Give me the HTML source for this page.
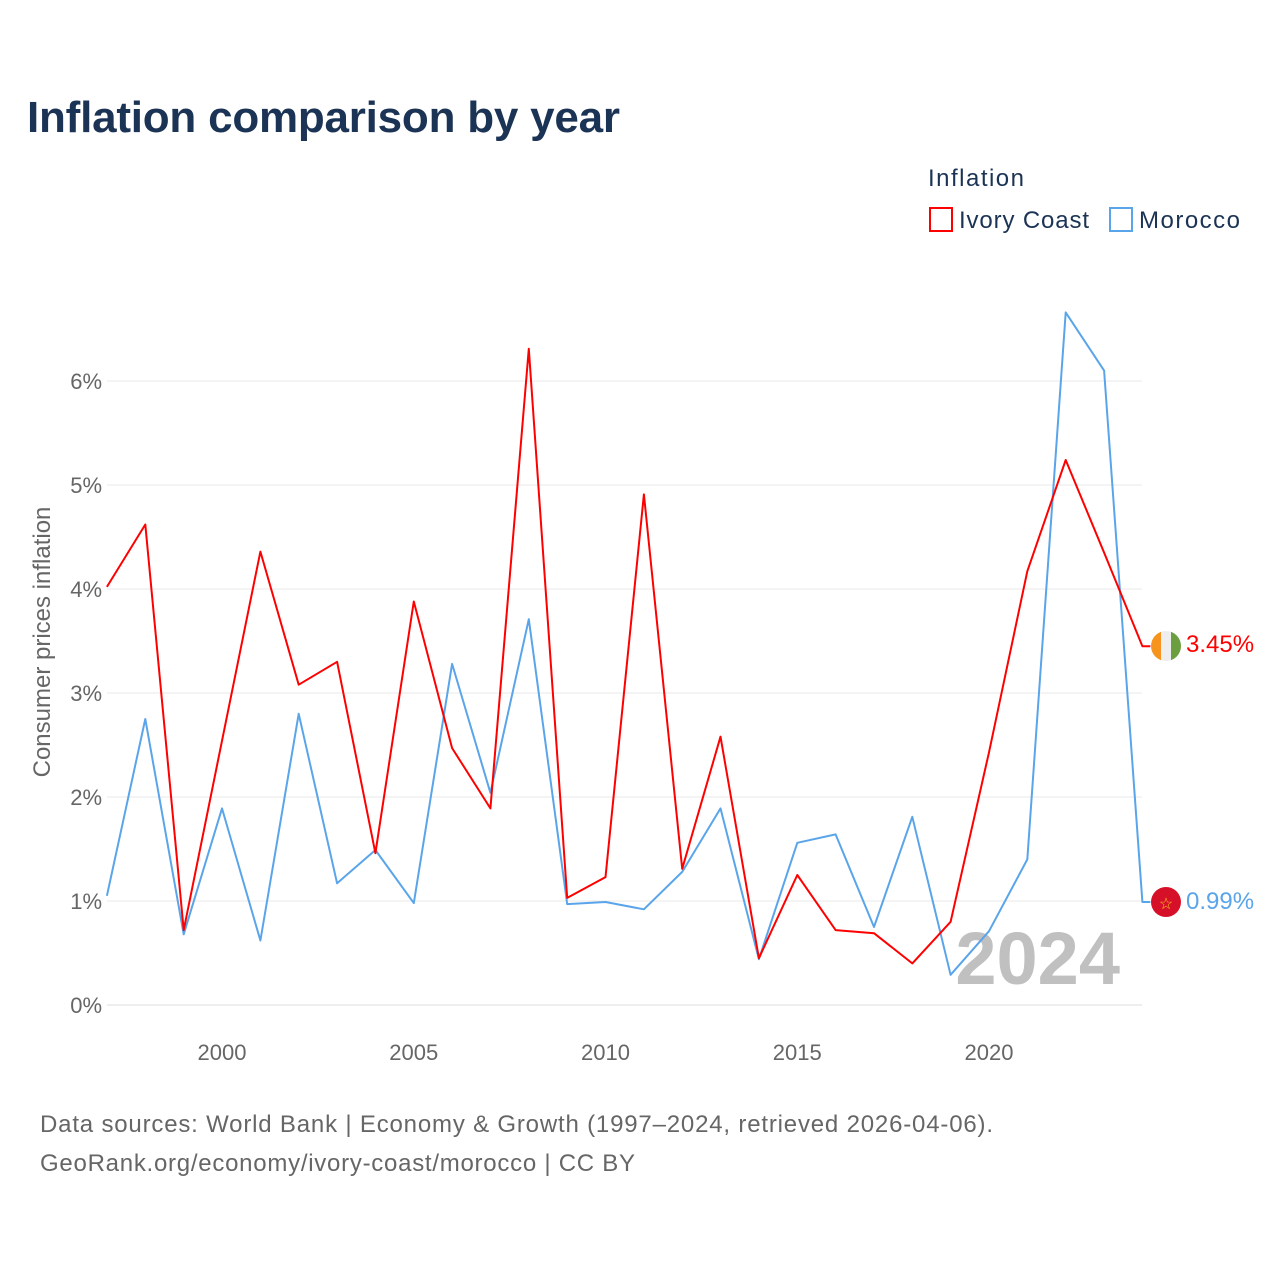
<!DOCTYPE html>
<html><head><meta charset="utf-8"><style>
body{margin:0;background:#fff;font-family:"Liberation Sans",sans-serif}
</style></head><body>
<svg width="1280" height="1280" xmlns="http://www.w3.org/2000/svg" style="font-family:'Liberation Sans',sans-serif">
<text x="27" y="132" font-size="44" font-weight="bold" fill="#1b3354" textLength="593">Inflation comparison by year</text>
<text x="928" y="186" font-size="24" fill="#1b3354" textLength="96">Inflation</text>
<g><rect x="930" y="208" width="22" height="23" fill="none" stroke="#f00" stroke-width="2"/><text x="959" y="228" font-size="24" fill="#1b3354" textLength="130">Ivory Coast</text></g>
<g><rect x="1110" y="208" width="22" height="23" fill="none" stroke="#5aa5ea" stroke-width="2"/><text x="1139" y="228" font-size="24" fill="#1b3354" textLength="101">Morocco</text></g>
<g id="grid"></g>
<g id="yt"></g>
<g id="xt"></g>
<text transform="translate(50,642) rotate(-90)" text-anchor="middle" font-size="24" fill="#666">Consumer prices inflation</text>
<text x="1120" y="984" text-anchor="end" font-size="74" font-weight="bold" fill="#c0c0c0">2024</text>
<g id="series"></g>
<g><clipPath id="c1"><circle cx="1166" cy="646" r="15"/></clipPath><g clip-path="url(#c1)"><rect x="1151" y="631" width="10" height="30" fill="#f7941d"/><rect x="1161" y="631" width="10" height="30" fill="#eee"/><rect x="1171" y="631" width="10" height="30" fill="#6a9e3f"/></g></g>
<g><circle cx="1166" cy="902" r="15" fill="#d7102a"/><text x="1166" y="909" text-anchor="middle" font-size="16" fill="#f5c518">☆</text></g>
<text id="lab1" x="1186" y="652" font-size="24" fill="#f00"></text>
<text id="lab2" x="1186" y="909" font-size="24" fill="#5aa5ea"></text>
<text x="40" y="1132" font-size="24" fill="#666" textLength="953">Data sources: World Bank | Economy &amp; Growth (1997–2024, retrieved 2026-04-06).</text>
<text x="40" y="1171" font-size="24" fill="#666" textLength="595">GeoRank.org/economy/ivory-coast/morocco | CC BY</text>
</svg>
<script>
const years=[1997,1998,1999,2000,2001,2002,2003,2004,2005,2006,2007,2008,2009,2010,2011,2012,2013,2014,2015,2016,2017,2018,2019,2020,2021,2022,2023,2024];
const ivoryCoast=[4.02,4.62,0.72,2.54,4.36,3.08,3.30,1.46,3.88,2.47,1.89,6.31,1.03,1.23,4.91,1.31,2.58,0.45,1.25,0.72,0.69,0.40,0.80,2.43,4.17,5.24,4.35,3.45];
const morocco=[1.05,2.75,0.68,1.89,0.62,2.80,1.17,1.49,0.98,3.28,2.04,3.71,0.97,0.99,0.92,1.28,1.89,0.44,1.56,1.64,0.75,1.81,0.29,0.71,1.40,6.66,6.10,0.99];
const yTicks=[0,1,2,3,4,5,6];
const xTicks=[2000,2005,2010,2015,2020];
const NS="http://www.w3.org/2000/svg";
const x=v=>222+(v-2000)*38.35, y=v=>1005-v*104;
function mk(t,a,p){const e=document.createElementNS(NS,t);for(const k in a)e.setAttribute(k,a[k]);p.appendChild(e);return e;}
const grid=document.getElementById('grid'),yt=document.getElementById('yt'),xt=document.getElementById('xt'),ser=document.getElementById('series');
yTicks.forEach(t=>{const l=mk('line',{x1:107,x2:1142,y1:y(t),y2:y(t),stroke:t?'#e8e8e8':'#ddd','stroke-width':1},grid);


const tx=mk('text',{x:102,y:y(t)+8,'text-anchor':'end','font-size':22,fill:'#666'},yt);tx.textContent=t+'%';

});
xTicks.forEach(t=>{const tx=mk('text',{x:x(t),y:1060,'text-anchor':'middle','font-size':22,fill:'#666'},xt);tx.textContent=t;

});
function line(vals,col,name){let d=vals.map((v,i)=>(i?'L':'M')+x(years[i]).toFixed(1)+','+y(v).toFixed(1)).join(' ');
d+=' L'+(x(years[years.length-1])+8)+','+y(vals[vals.length-1]).toFixed(1);
const p=mk('path',{d:d,fill:'none',stroke:col,'stroke-width':2,'stroke-linejoin':'round'},ser);

}
line(morocco,'#5aa5ea','line-morocco');
line(ivoryCoast,'#f00','line-ivory-coast');
document.getElementById('lab1').textContent=ivoryCoast[ivoryCoast.length-1].toFixed(2)+'%';
document.getElementById('lab2').textContent=morocco[morocco.length-1].toFixed(2)+'%';
</script>
</body></html>
